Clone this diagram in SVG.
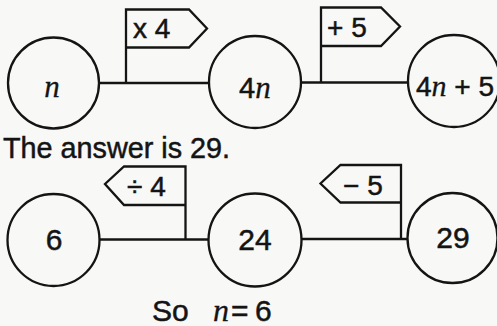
<svg xmlns="http://www.w3.org/2000/svg" width="497" height="326" viewBox="0 0 497 326">
  <style>
    .shape { fill: none; stroke: #141414; stroke-width: 2.3; }
    .sans { font-family: "Liberation Sans", Arial, sans-serif; fill: #141414; stroke: #141414; stroke-width: 0.5; }
    .it { font-family: "Liberation Serif", "Times New Roman", serif; font-style: italic; fill: #141414; stroke: #141414; stroke-width: 0.3; }
    .label { font-size: 28px; }
    .num { font-size: 30px; }
  </style>
  <rect width="497" height="326" fill="#f8f8f6"/>

  <g id="connectors">
    <path class="shape" d="M99,83 H208"/>
    <path class="shape" d="M301,82.5 H408"/>
    <path class="shape" d="M99,239.5 H209"/>
    <path class="shape" d="M301.5,239 H408"/>
  </g>

  <g id="flag-times4">
    <path class="shape" d="M126,83 V9.5 H189 L207,28.5 L189,47.5 H126"/>
    <text class="sans label" x="133" y="38">x 4</text>
  </g>
  <g id="flag-plus5">
    <path class="shape" d="M321,82.5 V7.5 H381 L400,26.5 L381,46 H321"/>
    <text class="sans label" x="327" y="36.5">+ 5</text>
  </g>
  <g id="flag-div4">
    <path class="shape" d="M185.5,239.5 V166.5 H124 L105,184 L124,205 H185.5"/>
    <text class="sans label" x="127" y="195.5">÷ 4</text>
  </g>
  <g id="flag-minus5">
    <path class="shape" d="M401,239 V165 H340.5 L320.5,183.5 L340.5,202.5 H401"/>
    <text class="sans label" x="343" y="194.5">− 5</text>
  </g>

  <g id="node-n">
    <circle class="shape" cx="53.5" cy="83" r="45.5"/>
    <text class="it" font-size="31" x="52" y="97" text-anchor="middle">n</text>
  </g>
  <g id="node-4n">
    <circle class="shape" cx="255" cy="82" r="46"/>
    <text x="239" y="97.5" font-size="29"><tspan class="sans">4</tspan><tspan class="it" font-size="31">n</tspan></text>
  </g>
  <g id="node-4n5">
    <circle class="shape" cx="454" cy="81" r="46"/>
    <text x="416" y="95.5" font-size="28"><tspan class="sans">4</tspan><tspan class="it" font-size="30">n</tspan><tspan class="sans"> + 5</tspan></text>
  </g>

  <text id="answer" class="sans" font-size="30" x="3" y="157.5" textLength="227" lengthAdjust="spacingAndGlyphs">The answer is 29.</text>

  <g id="node-6">
    <circle class="shape" cx="53.5" cy="240" r="46"/>
    <text class="sans num" x="54" y="249.5" text-anchor="middle">6</text>
  </g>
  <g id="node-24">
    <circle class="shape" cx="255" cy="240" r="46.5"/>
    <text class="sans num" x="255" y="249.5" text-anchor="middle">24</text>
  </g>
  <g id="node-29">
    <circle class="shape" cx="452.5" cy="238" r="45"/>
    <text class="sans num" x="453" y="248" text-anchor="middle">29</text>
  </g>

  <text id="conclusion" y="320.5" font-size="30"><tspan class="sans" x="152">So</tspan><tspan class="it" x="213" font-size="32">n</tspan><tspan class="sans" x="231">=</tspan><tspan class="sans" x="255">6</tspan></text>
</svg>
